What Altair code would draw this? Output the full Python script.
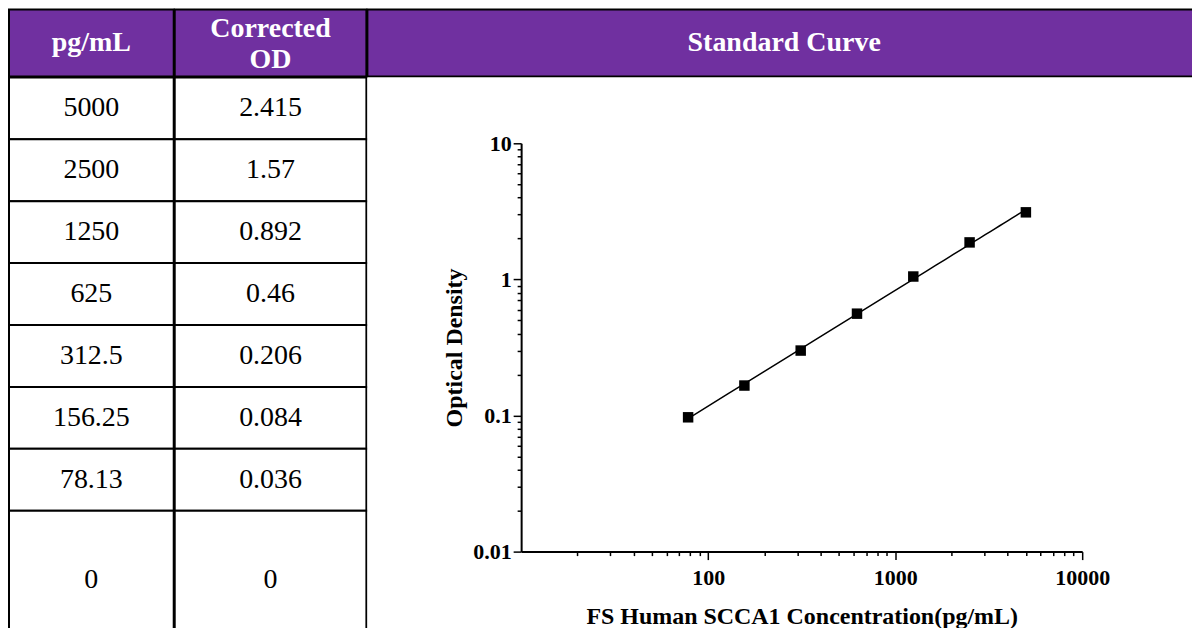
import altair as alt
import pandas as pd

# ---- data ----
table_conc = ["5000", "2500", "1250", "625", "312.5", "156.25", "78.13", "0"]
table_od = ["2.415", "1.57", "0.892", "0.46", "0.206", "0.084", "0.036", "0"]
header_labels = ["pg/mL", "Corrected\nOD", "Standard Curve"]

curve_conc = [5000, 2500, 1250, 625, 312.5, 156.25, 78.13]
curve_od = [3.11, 1.87, 1.05, 0.56, 0.30, 0.166, 0.097]

x_title = "FS Human SCCA1 Concentration(pg/mL)"
y_title = "Optical Density"

# ---- layout / styles ----
PURPLE = "#7030A0"
SERIF = "Liberation Serif"
COLW = [165, 192, 835]
HEAD_H = 67
ROW_H = 62
LAST_H = 138
BODY_H = ROW_H * (len(table_conc) - 1) + LAST_H
FS = 28
LINE_H = 31

# plot area inside the right cell
PX0, PW = 154, 562
PY0, PH = 66, 409


def header_cell(label, w):
    nlines = label.count("\n") + 1
    dy = -(nlines - 1) * LINE_H / 2 + (2 if nlines > 1 else 0)
    return alt.Chart(pd.DataFrame({"t": [label]})).mark_text(
        font=SERIF, fontSize=FS, fontWeight="bold", color="white",
        lineBreak="\n", lineHeight=LINE_H, dy=dy
    ).encode(text="t:N").properties(
        width=w, height=HEAD_H,
        view=alt.ViewBackground(fill=PURPLE, stroke="black", strokeWidth=2)
    )


def column(values, w):
    n = len(values)
    total = (n - 1) + LAST_H / ROW_H
    df = pd.DataFrame({"row": list(range(n)), "val": values, "c": ["a"] * n})
    base = alt.Chart(df).transform_calculate(
        y0="datum.row",
        y1=f"datum.row == {n - 1} ? {total} : datum.row + 1",
        ym="(datum.y0 + datum.y1) / 2",
    )
    xs = alt.X("c:N", axis=None, scale=alt.Scale(paddingInner=0, paddingOuter=0))
    ysc = alt.Scale(domain=[0, total], reverse=True, nice=False, zero=False)
    rect = base.mark_rect(fill="white", stroke="black", strokeWidth=2).encode(
        x=xs, y=alt.Y("y0:Q", axis=None, scale=ysc), y2="y1:Q")
    txt = base.mark_text(font=SERIF, fontSize=FS, color="black").encode(
        x=xs, y=alt.Y("ym:Q", axis=None, scale=ysc), text="val:N")
    return (rect + txt).properties(width=w, height=BODY_H)


# ---- plot ----
DEC = "abs(log(datum.value)/LN10 - round(log(datum.value)/LN10)) < 1e-6"
LBL = DEC + " ? format(datum.value, '~g') : ''"
tick_size = {"condition": {"test": DEC, "value": 8}, "value": 4}

xticks = [m * 10 ** e for e in [1, 2, 3] for m in range(1, 10)][1:] + [10000]
yticks = [m / 100 for m in range(1, 10)] + [m / 10 for m in range(1, 10)] + \
         [m for m in range(1, 10)] + [10]

axis_common = dict(
    labelExpr=LBL, tickSize=tick_size, tickColor="black", tickWidth=1.5,
    domainColor="black", domainWidth=2, grid=False,
    labelFont=SERIF, labelFontWeight="bold", labelFontSize=22, labelColor="black",
    titleFont=SERIF, titleFontWeight="bold", titleFontSize=24, titleColor="black",
    labelFlush=False, labelOverlap=False,
)

pdf = pd.DataFrame({"conc": curve_conc, "od": curve_od})
X = alt.X("conc:Q",
          scale=alt.Scale(type="log", domain=[10, 10000], nice=False,
                          range=[PX0, PX0 + PW]),
          axis=alt.Axis(values=xticks, title=x_title, labelPadding=8,
                        titlePadding=16, offset=PY0 + PH - BODY_H, **axis_common))
Y = alt.Y("od:Q",
          scale=alt.Scale(type="log", domain=[0.01, 10], nice=False,
                          range=[PY0 + PH, PY0]),
          axis=alt.Axis(values=yticks, title=y_title, labelPadding=2,
                        titlePadding=6, offset=-PX0, **axis_common))

base = alt.Chart(pdf)
fit = base.transform_regression("conc", "od", method="pow",
                                extent=[78.13, 5000]).mark_line(
    color="black", strokeWidth=1.5).encode(x=X, y=Y)
pts = base.mark_square(size=110, color="black", opacity=1).encode(x=X, y=Y)
plot = (fit + pts).properties(
    width=COLW[2], height=BODY_H,
    view=alt.ViewBackground(fill="white", stroke=None))

cells = [header_cell(l, w) for l, w in zip(header_labels, COLW)] + [
    column(table_conc, COLW[0]), column(table_od, COLW[1]), plot]

# negative right/bottom padding clips the table at the window edge
chart = alt.concat(*cells, columns=3, spacing=-2).properties(
    padding={"top": 0, "left": 0, "right": -10, "bottom": -22}
).configure_view(stroke=None)

chart.save("out.html", embed_options={"renderer": "svg", "actions": False})
